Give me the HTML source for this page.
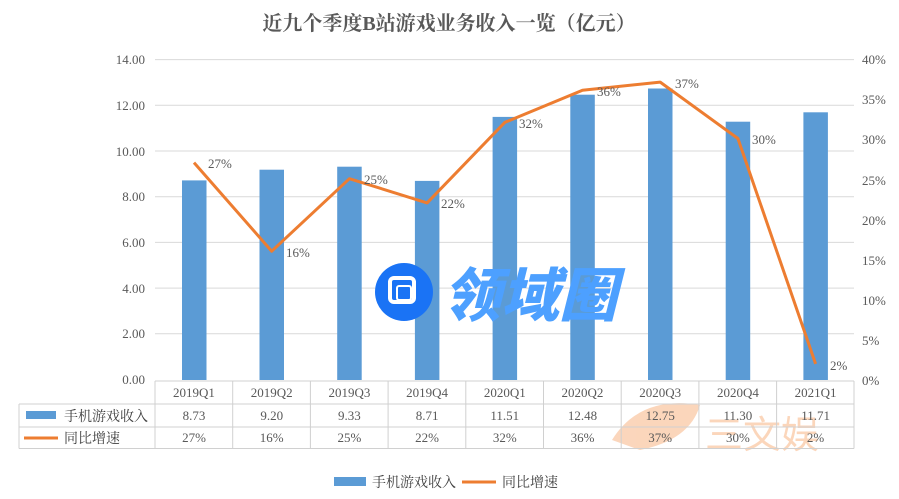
<!DOCTYPE html>
<html><head><meta charset="utf-8"><style>
html,body{margin:0;padding:0;background:#fff;}
svg{display:block;font-family:"Liberation Serif","Noto Serif CJK SC",serif;}
</style></head><body>
<svg width="899" height="499" viewBox="0 0 899 499" xmlns="http://www.w3.org/2000/svg">
<rect width="899" height="499" fill="#fff"/>
<text x="449" y="30" text-anchor="middle" font-size="20" font-weight="bold" fill="#595959" font-family="Liberation Serif,'Noto Serif CJK SC',serif">近九个季度B站游戏业务收入一览（亿元）</text>
<g stroke="#d9d9d9" stroke-width="1">
<line x1="155" x2="854" y1="59.6" y2="59.6"/>
<line x1="155" x2="854" y1="105.3" y2="105.3"/>
<line x1="155" x2="854" y1="151" y2="151"/>
<line x1="155" x2="854" y1="196.7" y2="196.7"/>
<line x1="155" x2="854" y1="242.4" y2="242.4"/>
<line x1="155" x2="854" y1="288.1" y2="288.1"/>
<line x1="155" x2="854" y1="333.8" y2="333.8"/>
</g>
<g font-size="13" fill="#595959" text-anchor="end">
<text x="145" y="64">14.00</text><text x="145" y="110">12.00</text><text x="145" y="156">10.00</text>
<text x="145" y="201">8.00</text><text x="145" y="247">6.00</text><text x="145" y="293">4.00</text>
<text x="145" y="338">2.00</text><text x="145" y="384">0.00</text>
</g>
<g font-size="13" fill="#595959">
<text x="862" y="64">40%</text><text x="862" y="104">35%</text><text x="862" y="144">30%</text>
<text x="862" y="185">25%</text><text x="862" y="225">20%</text><text x="862" y="265">15%</text>
<text x="862" y="305">10%</text><text x="862" y="345">5%</text><text x="862" y="385">0%</text>
</g>
<g opacity="0.45">
<path d="M612 440 Q640 395 700 405 Q690 440 640 450 Z" fill="#f7a56a"/>
<text x="705" y="448" font-size="38" fill="#f7a56a" font-family="'Noto Sans CJK SC',sans-serif">三文娱</text>
</g>
<g fill="#5b9bd5">
<rect x="182" y="180.4" width="24.5" height="199.6"/>
<rect x="259.5" y="169.7" width="24.5" height="210.3"/>
<rect x="337.2" y="166.7" width="24.5" height="213.3"/>
<rect x="414.9" y="180.9" width="24.5" height="199.1"/>
<rect x="492.6" y="116.9" width="24.5" height="263.1"/>
<rect x="570.3" y="94.7" width="24.5" height="285.3"/>
<rect x="648" y="88.5" width="24.5" height="291.5"/>
<rect x="725.7" y="121.7" width="24.5" height="258.3"/>
<rect x="803.4" y="112.3" width="24.5" height="267.7"/>
</g>
<circle cx="404" cy="292" r="29" fill="#1a73f5"/>
<rect x="390" y="278" width="24" height="24" rx="4" fill="none" stroke="#fff" stroke-width="4"/>
<rect x="397" y="286" width="14" height="14" rx="2" fill="#1a73f5" stroke="#fff" stroke-width="2"/>
<text x="443" y="316" font-size="58" font-weight="900" font-style="italic" fill="#4da0ff" font-family="'Noto Sans CJK SC',sans-serif">领域圈</text>
<polyline fill="none" stroke="#ed7d31" stroke-width="3" stroke-linejoin="round" points="194,162.6 271.7,251.2 349.4,178.7 427.1,202.9 504.8,122.4 582.5,90.2 660.2,82.1 737.9,138.5 815.6,363.9"/>
<g font-size="13" fill="#595959">
<text x="208" y="168">27%</text><text x="286" y="257">16%</text><text x="364" y="184">25%</text>
<text x="441" y="208">22%</text><text x="519" y="128">32%</text><text x="597" y="96">36%</text>
<text x="675" y="88">37%</text><text x="752" y="144">30%</text><text x="830" y="370">2%</text>
</g>
<g stroke="#d0d0d0" stroke-width="1" fill="none">
<line x1="155" x2="854" y1="381" y2="381"/>
<line x1="19" x2="854" y1="404" y2="404"/>
<line x1="19" x2="854" y1="427" y2="427"/>
<line x1="19" x2="854" y1="448.5" y2="448.5"/>
<line x1="19" x2="19" y1="404" y2="448.5"/>
<line x1="155" x2="155" y1="381" y2="448.5"/>
<line x1="232.7" x2="232.7" y1="381" y2="448.5"/>
<line x1="310.4" x2="310.4" y1="381" y2="448.5"/>
<line x1="388.1" x2="388.1" y1="381" y2="448.5"/>
<line x1="465.8" x2="465.8" y1="381" y2="448.5"/>
<line x1="543.5" x2="543.5" y1="381" y2="448.5"/>
<line x1="621.2" x2="621.2" y1="381" y2="448.5"/>
<line x1="698.9" x2="698.9" y1="381" y2="448.5"/>
<line x1="776.6" x2="776.6" y1="381" y2="448.5"/>
<line x1="854" x2="854" y1="381" y2="448.5"/>
</g>
<rect x="26" y="411" width="30" height="8" fill="#5b9bd5"/>
<line x1="24" x2="58" y1="438" y2="438" stroke="#ed7d31" stroke-width="3"/>
<g font-size="14" fill="#404040" font-family="'Noto Serif CJK SC',serif">
<text x="64" y="421">手机游戏收入</text>
<text x="64" y="443">同比增速</text>
</g>
<g font-size="13" fill="#595959" text-anchor="middle">
<text x="194" y="397">2019Q1</text><text x="271.7" y="397">2019Q2</text><text x="349.4" y="397">2019Q3</text>
<text x="427.1" y="397">2019Q4</text><text x="504.8" y="397">2020Q1</text><text x="582.5" y="397">2020Q2</text>
<text x="660.2" y="397">2020Q3</text><text x="737.9" y="397">2020Q4</text><text x="815.6" y="397">2021Q1</text>
<text x="194" y="420">8.73</text><text x="271.7" y="420">9.20</text><text x="349.4" y="420">9.33</text>
<text x="427.1" y="420">8.71</text><text x="504.8" y="420">11.51</text><text x="582.5" y="420">12.48</text>
<text x="660.2" y="420">12.75</text><text x="737.9" y="420">11.30</text><text x="815.6" y="420">11.71</text>
<text x="194" y="442">27%</text><text x="271.7" y="442">16%</text><text x="349.4" y="442">25%</text>
<text x="427.1" y="442">22%</text><text x="504.8" y="442">32%</text><text x="582.5" y="442">36%</text>
<text x="660.2" y="442">37%</text><text x="737.9" y="442">30%</text><text x="815.6" y="442">2%</text>
</g>
<rect x="334" y="477" width="32" height="9" fill="#5b9bd5"/>
<text x="372" y="487" font-size="14" fill="#404040" font-family="'Noto Serif CJK SC',serif">手机游戏收入</text>
<line x1="462" x2="496" y1="482" y2="482" stroke="#ed7d31" stroke-width="3"/>
<text x="502" y="487" font-size="14" fill="#404040" font-family="'Noto Serif CJK SC',serif">同比增速</text>
</svg>
</body></html>
